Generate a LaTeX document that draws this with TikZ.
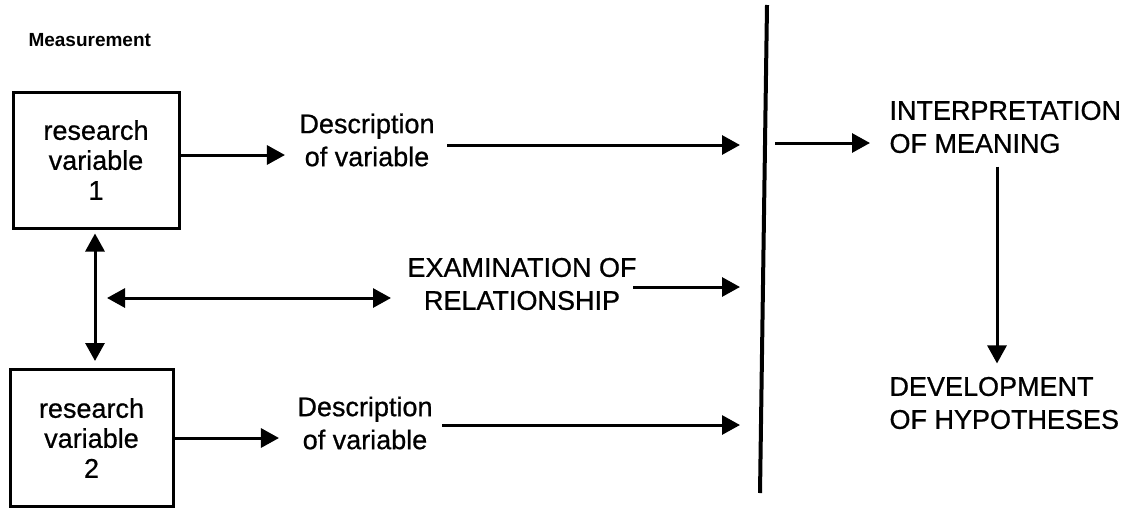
\documentclass[tikz,border=0pt]{standalone}
\usepackage{fontspec}
\setmainfont{Liberation Sans}
\newfontfamily\medfont[FakeBold=0.7]{Liberation Sans}
\usetikzlibrary{arrows.meta}
\begin{document}
\begin{tikzpicture}[x=1pt,y=-1pt, line width=3pt,
  arr/.style={-{Triangle[length=18pt,width=19pt]}},
  darr/.style={{Triangle[length=18pt,width=19pt]}-{Triangle[length=18pt,width=19pt]}},
  box/.style={draw, line width=3pt, align=center, inner sep=0pt, font=\medfont\fontsize{27}{30}\selectfont},
  lbl/.style={align=center, inner sep=0pt, font=\medfont\fontsize{27}{33}\selectfont},
  lbll/.style={align=left, inner sep=0pt, anchor=west, font=\medfont\fontsize{27}{33}\selectfont},
  ]
\useasboundingbox (0,0) rectangle (1139,509);
% title
\node[anchor=west, inner sep=0pt, font=\bfseries\fontsize{19}{22}\selectfont] (title) at (27,40) {Measurement};
% boxes
\node[box, minimum width=166pt, minimum height=136pt] (b1) at (96,160) {research\\variable\\1};
\node[box, minimum width=163pt, minimum height=137pt] (b2) at (91.5,438) {research\\variable\\2};
% labels
\node[lbl] (d1) at (367,140) {Description\\of variable};
\node[lbl] (d2) at (365,423) {Description\\of variable};
\node[lbl] (ex) at (522,284) {EXAMINATION OF\\RELATIONSHIP};
\node[lbll] (ip) at (888,127) {INTERPRETATION\\OF MEANING};
\node[lbll] (hy) at (888,403) {DEVELOPMENT\\OF HYPOTHESES};
% helper coordinates
\coordinate (vtop) at (767,5);
\coordinate (vbot) at (760,493);
\coordinate (e1) at (740,145);
\coordinate (e2) at (740,287);
\coordinate (s2) at (633,287);
\coordinate (e3) at (740,425);
\coordinate (v1) at (775,143);
\coordinate (k) at (997,0);
\coordinate (m) at (95,0);
\coordinate (hl) at (107,298);
% divider
\draw[line width=4pt] (vtop) -- (vbot);
% connectors
\draw[arr, shorten >=13pt] ([yshift=5pt]b1.east) -- ([yshift=5pt]b1.east -| d1.west);
\draw[arr, shorten >=17pt] (b2.east) -- (b2.east -| d2.west);
\draw[arr, shorten <=11pt] (d1.east |- e1) -- (e1);
\draw[arr, shorten <=8pt] (d2.east |- e3) -- (e3);
\draw[arr] (s2) -- (e2);
\draw[arr, shorten >=18pt] (v1) -- (v1 -| ip.west);
\draw[arr, shorten <=12pt, shorten >=12pt] (ip.south -| k) -- (hy.north -| k);
\draw[darr, shorten <=4pt, shorten >=7pt] (b1.south -| m) -- (b2.north -| m);
\draw[darr, shorten >=15pt] (hl) -- (hl -| ex.west);
\end{tikzpicture}
\end{document}
